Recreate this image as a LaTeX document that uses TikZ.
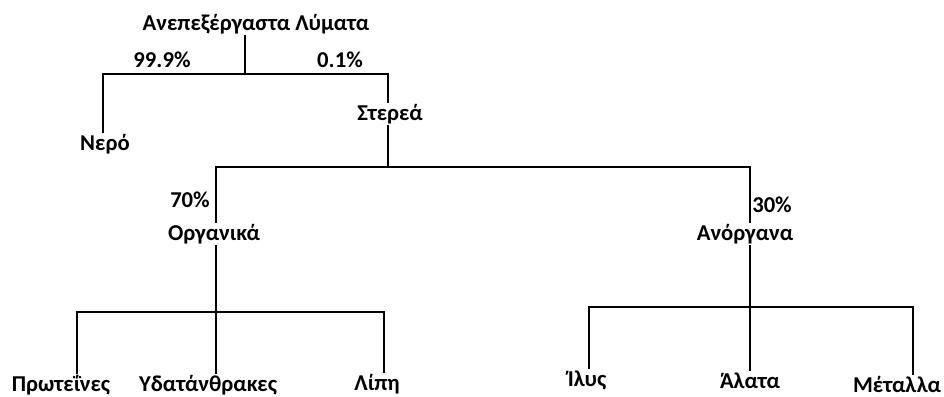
\documentclass[tikz,border=0pt]{standalone}
\usepackage{fontspec}
\setmainfont{Carlito}
\begin{document}
\begin{tikzpicture}[x=0.75pt,y=-0.75pt,
  lbl/.style={font=\bfseries\fontsize{17}{19}\selectfont, inner sep=1.5pt, anchor=base},
  conn/.style={line width=1.8pt, line cap=rect}]
\useasboundingbox[fill=white] (0,0) rectangle (944,396);
% text nodes
\node[lbl] (root) at (256,30) {Ανεπεξέργαστα Λύματα};
\node[lbl] (p999) at (162,67) {99.9\%};
\node[lbl] (p01) at (340,67) {0.1\%};
\node[lbl] (nero) at (105,150) {Νερό};
\node[lbl] (sterea) at (390,120) {Στερεά};
\node[lbl] (p70) at (190,207) {70\%};
\node[lbl] (org) at (214,240) {Οργανικά};
\node[lbl] (p30) at (772,212) {30\%};
\node[lbl] (anorg) at (745,240) {Ανόργανα};
\node[lbl] (prot) at (61,391) {Πρωτεΐνες};
\node[lbl] (ydat) at (208,391) {Υδατάνθρακες};
\node[lbl] (lipi) at (377,390) {Λίπη};
\node[lbl] (ilys) at (587,386) {Ίλυς};
\node[lbl] (alata) at (750,388) {Άλατα};
\node[lbl] (metal) at (897,392) {Μέταλλα};
% junctions
\coordinate (j1) at (245,74);
\coordinate (j1l) at (103,74);
\coordinate (j1r) at (388,74);
\coordinate (j2) at (388,167);
\coordinate (j2l) at (216,167);
\coordinate (j2r) at (750,167);
\coordinate (j3) at (216,312);
\coordinate (j3l) at (77,312);
\coordinate (j3r) at (384,312);
\coordinate (j4) at (750,307);
\coordinate (j4l) at (589,307);
\coordinate (j4r) at (913,307);
% connectors
\draw[conn] (j1 |- root.south) -- (j1);
\draw[conn] (j1l |- nero.north) -- (j1l) -- (j1r) -- (j1r |- sterea.north);
\draw[conn] (j2 |- sterea.south) -- (j2);
\draw[conn] (j2l |- org.north) -- (j2l) -- (j2r) -- (j2r |- anorg.north);
\draw[conn] (j3 |- org.south) -- (j3);
\draw[conn] (j3l |- prot.north) -- (j3l) -- (j3r) -- (j3r |- lipi.north);
\draw[conn] (j3) -- (j3 |- ydat.north);
\draw[conn] (j4 |- anorg.south) -- (j4);
\draw[conn] (j4l |- ilys.north) -- (j4l) -- (j4r) -- (j4r |- metal.north);
\draw[conn] (j4) -- (j4 |- alata.north);
\end{tikzpicture}
\end{document}
